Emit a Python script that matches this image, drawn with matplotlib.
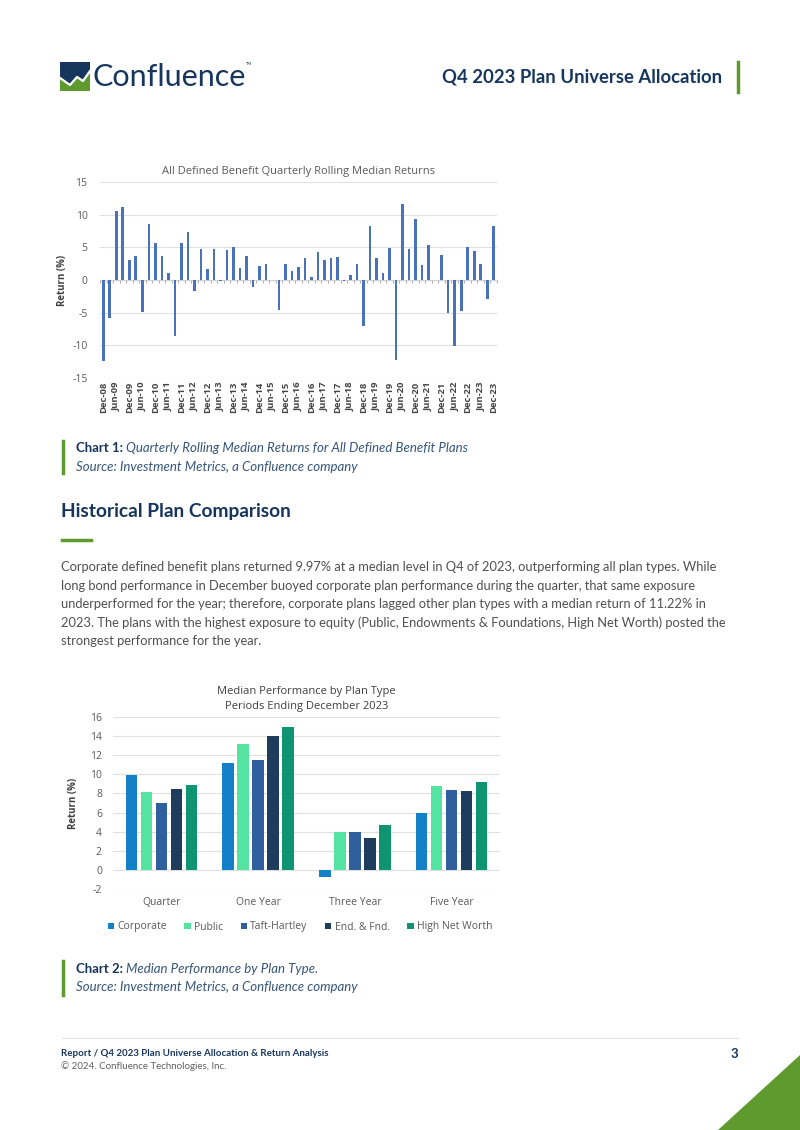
import numpy as np
import matplotlib.pyplot as plt
from matplotlib.patches import Polygon, Rectangle

plt.rcParams['axes.unicode_minus'] = False

# Page and chart data.
returns = [-12.4, -5.8, 10.5, 11.1, 3.1, 3.6, -4.9, 8.5, 5.7, 3.7,
           1.1, -8.5, 5.6, 7.3, -1.7, 4.7, 1.7, 4.8, -0.2, 4.6,
           5.0, 1.8, 3.6, -1.0, 2.2, 2.4, 0.0, -4.6, 2.5, 1.4,
           2.0, 3.4, 0.4, 4.3, 3.1, 3.3, 3.5, -0.2, 0.8, 2.4,
           -7.0, 8.2, 3.3, 1.0, 4.9, -12.2, 11.7, 4.8, 9.4, 2.3,
           5.3, 0.0, 3.9, -5.0, -10.1, -4.7, 5.0, 4.5, 2.4, -2.9, 8.3]
tick_labels = ['Dec-08', 'Jun-09', 'Dec-09', 'Jun-10', 'Dec-10', 'Jun-11', 'Dec-11',
               'Jun-12', 'Dec-12', 'Jun-13', 'Dec-13', 'Jun-14', 'Dec-14', 'Jun-15',
               'Dec-15', 'Jun-16', 'Dec-16', 'Jun-17', 'Dec-17', 'Jun-18', 'Dec-18',
               'Jun-19', 'Dec-19', 'Jun-20', 'Dec-20', 'Jun-21', 'Dec-21', 'Jun-22',
               'Dec-22', 'Jun-23', 'Dec-23']

periods = ['Quarter', 'One Year', 'Three Year', 'Five Year']
plan_types = ['Corporate', 'Public', 'Taft-Hartley', 'End. & Fnd.', 'High Net Worth']
corporate = [9.97, 11.22, -0.7, 6.0]
public = [8.2, 13.2, 3.95, 8.8]
taft_hartley = [7.0, 11.5, 4.0, 8.4]
end_fnd = [8.5, 14.0, 3.3, 8.25]
high_net_worth = [8.9, 15.0, 4.7, 9.2]
plan_colors = ['#1380c8', '#55e3a2', '#2f5f9d', '#1e3d5c', '#0e9471']

NAVY = '#17365d'
GREEN = '#5f9a2e'
GRAY = '#5a5a5a'
PAGE_FONT = 'Lato'
CHART_FONT = 'Open Sans'

W, H = 800, 1130
fig = plt.figure(figsize=(W / 100, H / 100), dpi=100)


def fx(x):
    return x / W


def fy(y):
    return 1 - y / H


def rect(x0, y0, x1, y1):
    return [fx(x0), fy(y1), (x1 - x0) / W, (y1 - y0) / H]


def txt(x, y, s, **kw):
    kw.setdefault('family', PAGE_FONT)
    kw.setdefault('va', 'center')
    fig.text(fx(x), fy(y), s, **kw)


# Header: logo icon.
logo = fig.add_axes(rect(60, 62, 90, 91))
logo.set_xlim(0, 30)
logo.set_ylim(29, 0)
logo.axis('off')
logo.add_patch(Rectangle((0, 0), 30, 29, color=GREEN))
logo.add_patch(Polygon([(0, 0), (30, 0), (30, 7), (23, 17), (17, 13), (10, 21), (0, 14)],
                       color=NAVY))
logo.plot([0, 10, 17, 23, 30], [16, 23, 15, 19, 9], color='white', lw=1.6)
txt(92, 77, 'Confluence', fontsize=22, color=NAVY)
txt(246, 64, 'TM', fontsize=3, color=NAVY)

txt(722, 77, 'Q4 2023 Plan Universe Allocation', fontsize=13.3, weight='bold',
    color=NAVY, ha='right')
fig.add_artist(plt.Line2D([fx(738), fx(738)], [fy(62), fy(92)], color=GREEN, lw=2.5))

# Chart 1: quarterly rolling median returns.
ax1 = fig.add_axes(rect(100, 182, 497, 378))
x = np.arange(len(returns))
ax1.bar(x, returns, width=0.4, color='#4a72b8', zorder=3)
ax1.set_xlim(-0.5, len(returns) - 0.5)
ax1.set_ylim(-15, 15)
ax1.set_yticks([-15, -10, -5, 0, 5, 10, 15])
ax1.yaxis.grid(True, color='#e0e0e0', lw=0.8, zorder=0)
for s in ['top', 'right', 'left']:
    ax1.spines[s].set_visible(False)
ax1.spines['bottom'].set_position(('data', 0))
ax1.spines['bottom'].set_color('#d0d0d0')
ax1.set_xticks(x[::2])
ax1.set_xticklabels(tick_labels, rotation=90, fontsize=6.8, weight='bold',
                    color='#454545', family=CHART_FONT)
ax1.set_xticks(np.arange(-0.5, len(returns), 1), minor=True)
ax1.tick_params(axis='x', which='major', length=0, pad=73)
ax1.tick_params(axis='x', which='minor', length=2.5, color='#9a9a9a', width=0.6)
ax1.tick_params(axis='y', length=0, labelsize=7.5, labelcolor=GRAY, pad=9)
for t in ax1.get_yticklabels():
    t.set_family(CHART_FONT)
ax1.set_ylabel('Return (%)', fontsize=7, weight='bold', color='#404040',
               family=CHART_FONT, labelpad=3)
ax1.set_title('All Defined Benefit Quarterly Rolling Median Returns', fontsize=8,
              color=GRAY, family=CHART_FONT, pad=6)

# Chart 1 caption.
fig.add_artist(plt.Line2D([fx(63), fx(63)], [fy(441), fy(473)], color=GREEN, lw=2.5))
txt(76, 448, 'Chart 1:', fontsize=9.5, weight='bold', color=NAVY)
txt(126, 448, 'Quarterly Rolling Median Returns for All Defined Benefit Plans',
    fontsize=9.5, style='italic', color='#35557a')
txt(76, 467, 'Source: Investment Metrics, a Confluence company',
    fontsize=9.5, style='italic', color='#35557a')

# Section heading and body text.
txt(61, 511, 'Historical Plan Comparison', fontsize=13.8, weight='bold', color=NAVY)
fig.add_artist(plt.Line2D([fx(62), fx(91)], [fy(540), fy(540)], color=GREEN, lw=2.5))
body = [
    'Corporate defined benefit plans returned 9.97% at a median level in Q4 of 2023, '
    'outperforming all plan types. While',
    'long bond performance in December buoyed corporate plan performance during the '
    'quarter, that same exposure',
    'underperformed for the year; therefore, corporate plans lagged other plan types '
    'with a median return of 11.22% in',
    '2023. The plans with the highest exposure to equity (Public, Endowments & '
    'Foundations, High Net Worth) posted the',
    'strongest performance for the year.',
]
for i, line in enumerate(body):
    txt(61, 567 + i * 18.5, line, fontsize=9.25, color='#505050')

# Chart 2: median performance by plan type.
ax2 = fig.add_axes(rect(113, 717, 500, 889))
series = [corporate, public, taft_hartley, end_fnd, high_net_worth]
xp = np.arange(len(periods))
step = 0.155
for i, (vals, name, col) in enumerate(zip(series, plan_types, plan_colors)):
    ax2.bar(xp + (i - 2) * step, vals, width=0.12, color=col, label=name, zorder=3)
ax2.set_xlim(-0.5, len(periods) - 0.5)
ax2.set_ylim(-2, 16)
ax2.set_yticks(np.arange(-2, 17, 2))
ax2.yaxis.grid(True, color='#e0e0e0', lw=0.8, zorder=0)
for s in ['top', 'right', 'left', 'bottom']:
    ax2.spines[s].set_visible(False)
ax2.set_xticks(xp)
ax2.set_xticklabels(periods, fontsize=7.5, color=GRAY, family=CHART_FONT)
ax2.tick_params(axis='x', length=0, pad=6)
ax2.tick_params(axis='y', length=0, labelsize=7.5, labelcolor=GRAY, pad=8)
for t in ax2.get_yticklabels():
    t.set_family(CHART_FONT)
ax2.set_ylabel('Return (%)', fontsize=7, weight='bold', color='#404040',
               family=CHART_FONT, labelpad=8)
ax2.set_title('Median Performance by Plan Type\nPeriods Ending December 2023',
              fontsize=8, color='#404040', family=CHART_FONT, pad=6, linespacing=1.4)
fig.legend(loc='center', bbox_to_anchor=(fx(300), fy(927)), ncol=5, frameon=False,
           handlelength=0.6, handleheight=0.6, handletextpad=0.3, columnspacing=1.7,
           prop={'family': CHART_FONT, 'size': 7.5}, labelcolor=GRAY)

# Chart 2 caption.
fig.add_artist(plt.Line2D([fx(63), fx(63)], [fy(961), fy(995)], color=GREEN, lw=2.5))
txt(76, 969, 'Chart 2:', fontsize=9.5, weight='bold', color=NAVY)
txt(126, 969, 'Median Performance by Plan Type.', fontsize=9.5, style='italic',
    color='#35557a')
txt(76, 987, 'Source: Investment Metrics, a Confluence company', fontsize=9.5,
    style='italic', color='#35557a')

# Footer.
fig.add_artist(plt.Line2D([fx(62), fx(738)], [fy(1038), fy(1038)], color='#e3e3e3', lw=0.8))
txt(61, 1054, 'Report / Q4 2023 Plan Universe Allocation & Return Analysis',
    fontsize=7, weight='bold', color=NAVY)
txt(61, 1066, '\u00a9 2024. Confluence Technologies, Inc.', fontsize=7, color='#606060')
txt(738, 1054, '3', fontsize=9.5, weight='bold', color=NAVY, ha='right')
fig.add_artist(Polygon([(fx(718), fy(1130)), (fx(800), fy(1130)), (fx(800), fy(1055))],
                       closed=True, color=GREEN, transform=fig.transFigure))

fig.savefig('out.png', dpi=100)
